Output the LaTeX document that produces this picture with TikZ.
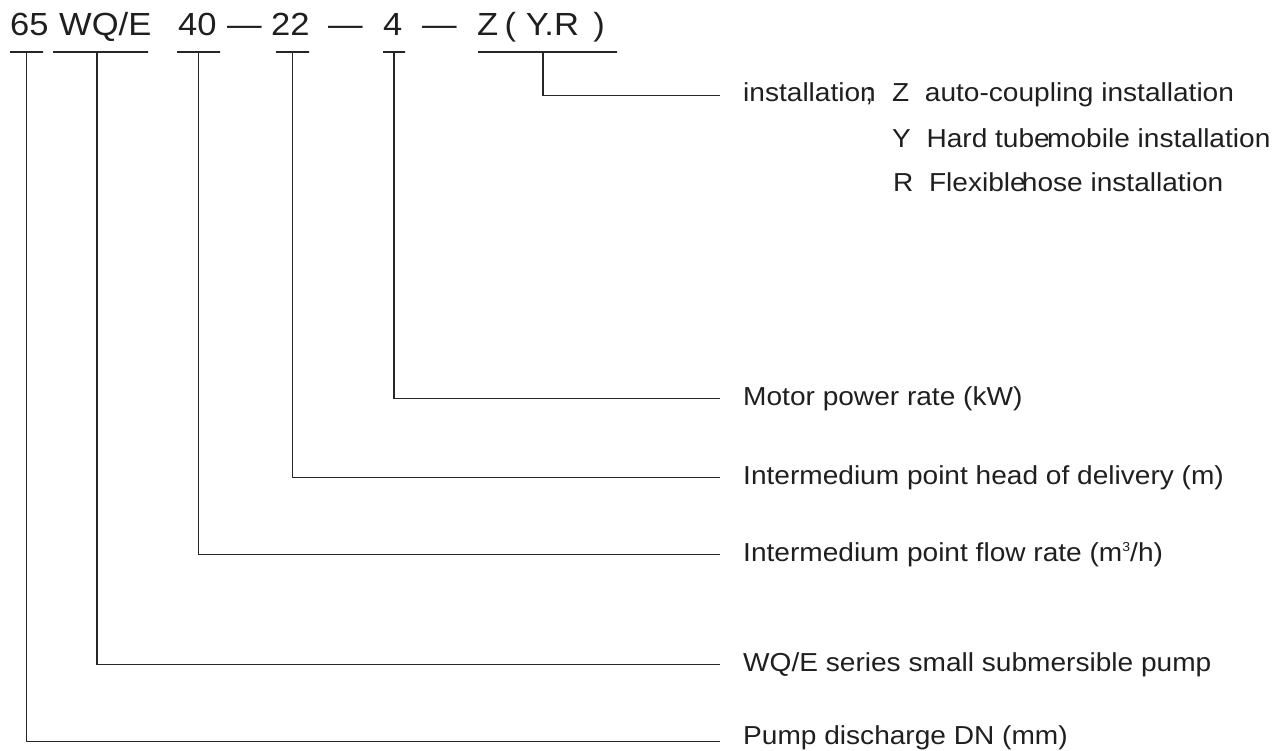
\documentclass[tikz,border=0pt]{standalone}
\usepackage{fontspec}
\setmainfont[FakeStretch=1.08]{Liberation Sans}
\usepackage{tikz}
\usetikzlibrary{positioning}

\newcommand{\cubed}{\raisebox{9.3pt}{\fontsize{13}{13}\selectfont 3}}

\begin{document}
\begin{tikzpicture}[
    x=1pt, y=-1pt,
    code/.style={anchor=base west, inner sep=0pt, text=black!88, font=\fontsize{32}{36}\selectfont},
    desc/.style={anchor=base west, inner ysep=0pt, inner xsep=23pt, text height=13.5pt, text depth=0pt, text=black!88, font=\fontsize{26}{30}\selectfont},
    opt/.style={anchor=base west, inner sep=0pt, text=black!88, font=\fontsize{26}{30}\selectfont},
    bar/.style={draw=black!85, line width=1.2pt, minimum height=0pt, inner sep=0pt, minimum width=#1},
    lead/.style={draw=black!85, line width=1.2pt}
]
\useasboundingbox (0,0) rectangle (1288,751);

% Type code
\node[code] (dn) at (10,36) {65};
\node[code] (series) at (59,36) {WQ/E};
\node[code] (flow) at (178,36) {40};
\node[code] (dashA) at (227,36) {\textemdash};
\node[code] (head) at (271,36) {22};
\node[code] (dashB) at (328,36) {\textemdash};
\node[code] (power) at (383,36) {4};
\node[code] (dashC) at (422,36) {\textemdash};
\node[code] (inst) at (477,36) {Z\hspace{0.2em}(\hspace{0.3em}Y.R\hspace{0.45em})};

% Underlines
\node[bar=33] (uDN) at (26.5,52) {};
\node[bar=95] (uSeries) at (100.5,52) {};
\node[bar=43] (uFlow) at (198.5,52) {};
\node[bar=33] (uHead) at (292.5,52) {};
\node[bar=22] (uPower) at (394,52) {};
\node[bar=139] (uInst) at (547.5,52) {};

% Meanings
\node[desc] (dInst) at (720,102) {installation\kern-0.4em;};
\node[opt] (optZ) at (892,102) {Z\hspace{0.6em}auto-coupling installation};
\node[opt] (optY) at (892,148) {Y\hspace{0.6em}Hard tube\kern-0.1em mobile installation};
\node[opt] (optR) at (893,192) {R\hspace{0.6em}Flexible\kern-0.15em hose installation};
\node[desc] (dPower) at (720,405) {Motor power rate (kW)};
\node[desc] (dHead) at (720,484) {Intermedium point head of delivery (m)};
\node[desc] (dFlow) at (720,561) {Intermedium point flow rate (m\cubed/h)};
\node[desc] (dSeries) at (720,671) {WQ/E series small submersible pump};
\node[desc] (dDN) at (720,744) {Pump discharge DN (mm)};

% Leaders
\draw[lead] ([xshift=-4.5pt]uInst.south) |- (dInst.west);
\draw[lead] (uPower.south) |- (dPower.west);
\draw[lead] (uHead.south) |- (dHead.west);
\draw[lead] (uFlow.south) |- (dFlow.west);
\draw[lead] ([xshift=-3.5pt]uSeries.south) |- (dSeries.west);
% bottom leader sits a little lower than its text
\draw[lead] (uDN.south) |- ([yshift=-4pt]dDN.west);

\end{tikzpicture}
\end{document}
